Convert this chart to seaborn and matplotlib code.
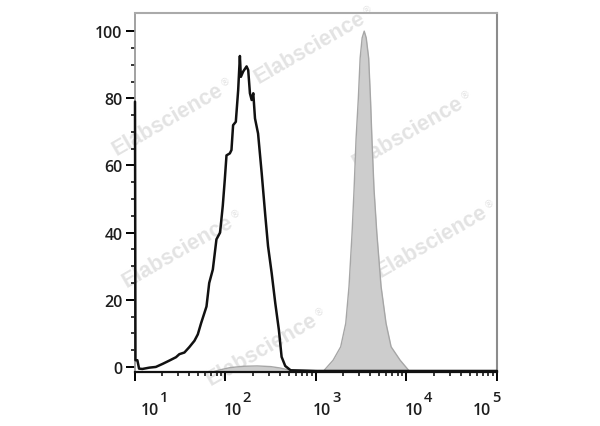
import matplotlib
matplotlib.use("Agg")
import numpy as np
import pandas as pd
import seaborn as sns
import matplotlib.pyplot as plt
from matplotlib import transforms
from matplotlib.ticker import FixedLocator, LogLocator, NullFormatter

# ---------------- data (log10 of fluorescence, % of max) ----------------
black_log = [1.0, 1.005, 1.026, 1.045, 1.081, 1.16, 1.23, 1.304, 1.38, 1.453, 1.49,
             1.546, 1.60, 1.657, 1.694, 1.73, 1.79, 1.82, 1.86, 1.90, 1.94, 1.97,
             1.992, 2.011, 2.048, 2.066, 2.084, 2.114, 2.14, 2.159, 2.17, 2.196,
             2.233, 2.251, 2.27, 2.289, 2.307, 2.326, 2.36, 2.40, 2.44, 2.47, 2.51,
             2.55, 2.59, 2.62, 2.66, 2.72, 3.0, 5.0]
black_val = [79, 2, 2, -0.5, -0.6, -0.2, 0, 0.9, 1.9, 2.9, 3.8,
             4.3, 5.9, 7.8, 9.7, 13, 18, 25, 29, 38, 40, 48,
             55.7, 63, 63.6, 64.6, 72, 73, 82.4, 92.6, 86.4, 88,
             89.5, 88.4, 81.5, 79.5, 81.5, 74, 69.5, 57.7, 45, 36, 28,
             19, 11, 3, 0.3, -1, -1.2, -1.2]

gray_log = [1.0, 1.85, 1.95, 2.05, 2.2, 2.35, 2.5, 2.6, 2.7, 2.85, 3.0, 3.084,
            3.189, 3.273, 3.329, 3.365, 3.399, 3.421, 3.443, 3.468, 3.488, 3.51,
            3.533, 3.555, 3.582, 3.602, 3.618, 3.641, 3.672, 3.719, 3.774, 3.83,
            3.93, 4.03, 4.2, 5.0]
gray_val = [-1.5, -1.5, -0.8, -0.2, 0.2, 0.3, 0.1, -0.3, -0.9, -1.0, -1.1, -1.2,
            2, 6, 13, 24, 40, 53, 68, 80, 92, 98,
            100, 98, 92, 80, 68, 53, 40, 24, 13, 6,
            2, -1.2, -1.5, -1.5]

x_exponents = [1, 2, 3, 4, 5]
y_ticks = [0, 20, 40, 60, 80, 100]
watermark = "Elabscience"

# ---------------- style ----------------
sns.set_style("ticks")
plt.rcParams["font.family"] = ["Open Sans", "DejaVu Sans"]

fig = plt.figure(figsize=(6.0, 4.27), dpi=100, facecolor="white")
ax = fig.add_axes([0.225, 0.1265, 0.6033, 0.8407])
ax.patch.set_alpha(0)

YMIN, YMAX = -1.5, 105.4

df_g = pd.DataFrame({"x": np.power(10.0, gray_log), "y": gray_val})
df_b = pd.DataFrame({"x": np.power(10.0, black_log), "y": black_val})

ax.fill_between(df_g["x"], df_g["y"], YMIN, color="#cdcdcd", lw=0, zorder=1)
sns.lineplot(data=df_g, x="x", y="y", color="#a6a6a6", lw=1.0, ax=ax,
             sort=False, estimator=None, zorder=2)
sns.lineplot(data=df_b, x="x", y="y", color="#111111", lw=1.8, ax=ax,
             sort=False, estimator=None, zorder=3, clip_on=False)

ax.set_xscale("log")
ax.set_xlim(10, 1e5)
ax.set_ylim(YMIN, YMAX)
ax.set_xlabel("")
ax.set_ylabel("")

ax.set_xticks([10.0 ** e for e in x_exponents])
ax.xaxis.set_major_formatter(NullFormatter())
ax.xaxis.set_minor_locator(LogLocator(base=10, subs=np.arange(2, 10)))
ax.xaxis.set_minor_formatter(NullFormatter())

ax.set_yticks(y_ticks)
ax.set_yticklabels([str(v) for v in y_ticks], fontweight="semibold")
ax.yaxis.set_minor_locator(FixedLocator([v for v in range(5, 100, 5) if v % 20]))

ax.tick_params(which="major", direction="out", length=6.5, width=1.4,
               color="black", labelsize=11.5, labelcolor="#1e1e1e", pad=2.5)
ax.tick_params(which="minor", direction="out", length=3.2, width=1.1, color="black")

for side, col, lw in [("left", "#9a9a9a", 1.3), ("bottom", "#111111", 1.6),
                      ("top", "#aaaaaa", 1.5), ("right", "#8c8c8c", 1.5)]:
    ax.spines[side].set_visible(True)
    ax.spines[side].set_color(col)
    ax.spines[side].set_linewidth(lw)

# x tick labels as 10 with raised exponent
trans = transforms.blended_transform_factory(ax.transData, ax.transAxes)
offsets = [6, -2, -3, -2, -24]
for e, dx in zip(x_exponents, offsets):
    t1 = transforms.offset_copy(trans, fig=fig, x=dx, y=-42, units="dots")
    ax.text(10.0 ** e, 0, "10", transform=t1, ha="left", va="baseline",
            fontsize=11.5, fontweight="semibold", color="#1e1e1e")
    t2 = transforms.offset_copy(trans, fig=fig, x=dx + 19, y=-29, units="dots")
    ax.text(10.0 ** e, 0, str(e), transform=t2, ha="left", va="baseline",
            fontsize=10.5, fontweight="semibold", color="#1e1e1e")

# watermark
wm_centers = [(168, 120), (310, 48), (408, 133), (178, 252), (432, 242), (262, 350)]
for cx, cy in wm_centers:
    fig.text(cx / 600, 1 - cy / 427, watermark, rotation=30, ha="center", va="center",
             fontsize=15.5, fontweight="bold", color="#e3e3e3",
             family=["Liberation Sans", "DejaVu Sans"], zorder=-1)
    rx, ry = cx + 57, cy - 38
    fig.text(rx / 600, 1 - ry / 427, "®", rotation=30, ha="center", va="center",
             fontsize=7, color="#e3e3e3", family=["DejaVu Sans"], zorder=-1)

fig.savefig("out.png", dpi=100, facecolor="white")
